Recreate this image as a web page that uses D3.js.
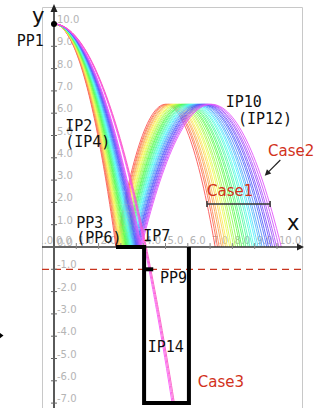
<!DOCTYPE html>
<html><head><meta charset="utf-8">
<script src="https://cdn.jsdelivr.net/npm/d3@7"></script>
<style>body{margin:0;background:#fff}svg{display:block}</style>
</head><body>
<script>
// ---- data ----
const startHeight = 10;          // release height (PP1)
const bounceE = 0.8;             // restitution -> apex ~6.4
// landing x of each trajectory on the ground
const landX = [2.78,2.82,2.85,2.89,2.92,2.96,2.99,3.03,3.06,3.10,3.13,3.17,3.21,3.24,3.28,3.31,3.35,3.38,
               3.42,3.45,3.49,3.52,3.56,3.59,3.63,3.67,3.70,3.74,3.77,3.81,3.84,3.88,3.92,4.06,4.10,4.14];
const platform = [2.78, 4.04];   // ledge at y=0
const pitRight = 6.05;
const pitDepth = -7;
const pp9 = [4.05, 4.45];        // small bar at y=-1
const dashY = -1;
const xTicks = [-1,0,1,2,3,4,5,6,7,8,9,10];
const yTicks = [-7,-6,-5,-4,-3,-2,-1,0,1,2,3,4,5,6,7,8,9,10];
const case1Span = [6.86, 9.69, 1.93];
const case2Arrow = [[10.15, 3.9],[9.45, 3.2]];
const monoLabels = [
  {t:"PP1", x:-1.67, y:9.0},
  {t:"IP2", x:0.5, y:5.2},
  {t:"(IP4)", x:0.5, y:4.5},
  {t:"PP3", x:1.0, y:0.85},
  {t:"(PP6)", x:1.0, y:0.2},
  {t:"IP7", x:4.0, y:0.25},
  {t:"PP9", x:4.75, y:-1.6},
  {t:"IP14", x:4.2, y:-4.7},
  {t:"IP10", x:7.7, y:6.3},
  {t:"(IP12)", x:8.25, y:5.5}
];
const caseLabels = [
  {t:"Case1", x:6.86, y:2.3},
  {t:"Case2", x:9.6, y:4.1},
  {t:"Case3", x:6.45, y:-6.3}
];

// ---- layout ----
const W = 323, H = 408;
const x = d3.scaleLinear().domain([0,10]).range([54, 277]);
const y = d3.scaleLinear().domain([0,10]).range([247, 24]);

const svg = d3.select("body").append("svg").attr("width", W).attr("height", H);
svg.append("rect").attr("width",W).attr("height",H).attr("fill","#fff");

const defs = svg.append("defs");
defs.append("clipPath").attr("id","box").append("rect")
  .attr("x",42).attr("y",7).attr("width",261).attr("height",H);

// frame
svg.append("path").attr("d",`M42.5,${H}V7.5H302.5V${H}`).attr("fill","none")
  .attr("stroke","#c8c8c8").attr("stroke-width",1);

const inner = svg.append("g").attr("clip-path","url(#box)");

// tick labels
const fmt = v => d3.format(".1f")(v).replace("\u2212","-");
inner.selectAll(".yl").data(yTicks).join("text")
  .attr("x", x(0)+3).attr("y", d => y(d)-1)
  .attr("font-family","DejaVu Sans").attr("font-size",10).attr("fill","#b4b4b4")
  .text(fmt);
inner.selectAll(".xl").data(xTicks).join("text")
  .attr("x", d => x(d)+2).attr("y", y(0)-3)
  .attr("font-family","DejaVu Sans").attr("font-size",10).attr("fill","#b4b4b4")
  .text(fmt);

// dashed line
inner.append("line").attr("x1",42).attr("x2",303).attr("y1",y(dashY)).attr("y2",y(dashY))
  .attr("stroke","#c8341e").attr("stroke-width",1.3).attr("stroke-dasharray","7,5");

// trajectories
const line = d3.line().x(d=>x(d[0])).y(d=>y(d[1]));
const N = landX.length;
landX.forEach((xl,i) => {
  const pts = [];
  const fall = xx => startHeight*(1-(xx/xl)*(xx/xl));
  const bounces = xl <= platform[1];
  const steps = 60;
  for (let k=0;k<=steps;k++){ const xx = xl*k/steps; pts.push([xx, fall(xx)]); }
  if (bounces){
    for (let k=1;k<=steps;k++){
      const w = 2*bounceE*k/steps;
      pts.push([xl + w*xl, startHeight*(2*bounceE*w - w*w)]);
    }
  } else {
    const xe = xl*Math.sqrt(1 - pitDepth/startHeight);
    for (let k=1;k<=30;k++){ const xx = xl + (xe-xl)*k/30; pts.push([xx, fall(xx)]); }
  }
  const hue = 360 - (i/(N-1))*40 + (i/(N-1))*0; // placeholder replaced below
  const h = (0 + i/(N-1)*320) % 360;
  inner.append("path").attr("d", line(pts)).attr("fill","none")
    .attr("stroke", d3.hsl(h, 0.95, 0.66)).attr("stroke-width",1).attr("stroke-opacity",0.9);
});

// axes
inner.append("line").attr("x1",40).attr("x2",298).attr("y1",y(0)).attr("y2",y(0))
  .attr("stroke","#333").attr("stroke-width",1.4);
svg.append("path").attr("d",`M304,${y(0)}l-7,-3.5v7z`).attr("fill","#222");
inner.selectAll(".xt").data(xTicks).join("line")
  .attr("x1",d=>x(d)).attr("x2",d=>x(d)).attr("y1",y(0)-4).attr("y2",y(0)+2)
  .attr("stroke","#888").attr("stroke-width",1);

svg.append("line").attr("x1",x(0)).attr("x2",x(0)).attr("y1",H).attr("y2",11)
  .attr("stroke","#5a5a5a").attr("stroke-width",2);
svg.append("path").attr("d",`M${x(0)},4l-3.5,8h7z`).attr("fill","#222");
svg.selectAll(".yt").data(yTicks).join("line")
  .attr("x1",x(0)-3).attr("x2",x(0)+3).attr("y1",d=>y(d)).attr("y2",d=>y(d))
  .attr("stroke","#666").attr("stroke-width",1);

// ledge and pit
svg.append("path").attr("fill","none").attr("stroke","#000").attr("stroke-width",4)
  .attr("stroke-linejoin","miter")
  .attr("d", `M${x(platform[0])},${y(0)}H${x(platform[1])}V${y(pitDepth)}H${x(pitRight)}V${y(0)}`);
svg.append("line").attr("x1",x(pp9[0])).attr("x2",x(pp9[1])).attr("y1",y(dashY)).attr("y2",y(dashY))
  .attr("stroke","#000").attr("stroke-width",4);

// PP1 dot
svg.append("circle").attr("cx",x(0)).attr("cy",y(startHeight)).attr("r",3).attr("fill","#000");

// Case1 span
svg.append("path").attr("fill","none").attr("stroke","#333").attr("stroke-width",1.5)
  .attr("d",`M${x(case1Span[0])},${y(case1Span[2])-3}v6M${x(case1Span[0])},${y(case1Span[2])}H${x(case1Span[1])}M${x(case1Span[1])},${y(case1Span[2])-3}v6`);
// Case2 arrow
const a0 = case2Arrow[0], a1 = case2Arrow[1];
svg.append("line").attr("x1",x(a0[0])).attr("y1",y(a0[1])).attr("x2",x(a1[0])+3).attr("y2",y(a1[1])-3)
  .attr("stroke","#222").attr("stroke-width",1.2);
svg.append("path").attr("fill","#222")
  .attr("d",`M${x(a1[0])},${y(a1[1])}l6.5,-2.2l-4.3,-4.3z`);

// left stray arrowhead
svg.append("path").attr("fill","#000").attr("d","M3.5,335.5l-4,-3v6z");

// axis names
svg.append("text").attr("x",32).attr("y",23).attr("font-family","DejaVu Sans").attr("font-size",21).attr("fill","#111").text("y");
svg.append("text").attr("x",287).attr("y",230).attr("font-family","DejaVu Sans").attr("font-size",21).attr("fill","#111").text("x");

// labels
svg.selectAll(".ml").data(monoLabels).join("text")
  .attr("x",d=>x(d.x)).attr("y",d=>y(d.y))
  .attr("font-family","DejaVu Sans Mono").attr("font-size",15).attr("fill","#111")
  .text(d=>d.t);
svg.selectAll(".cl").data(caseLabels).join("text")
  .attr("x",d=>x(d.x)).attr("y",d=>y(d.y))
  .attr("font-family","DejaVu Sans").attr("font-size",15).attr("fill","#d2321c")
  .text(d=>d.t);
</script>
</body></html>
